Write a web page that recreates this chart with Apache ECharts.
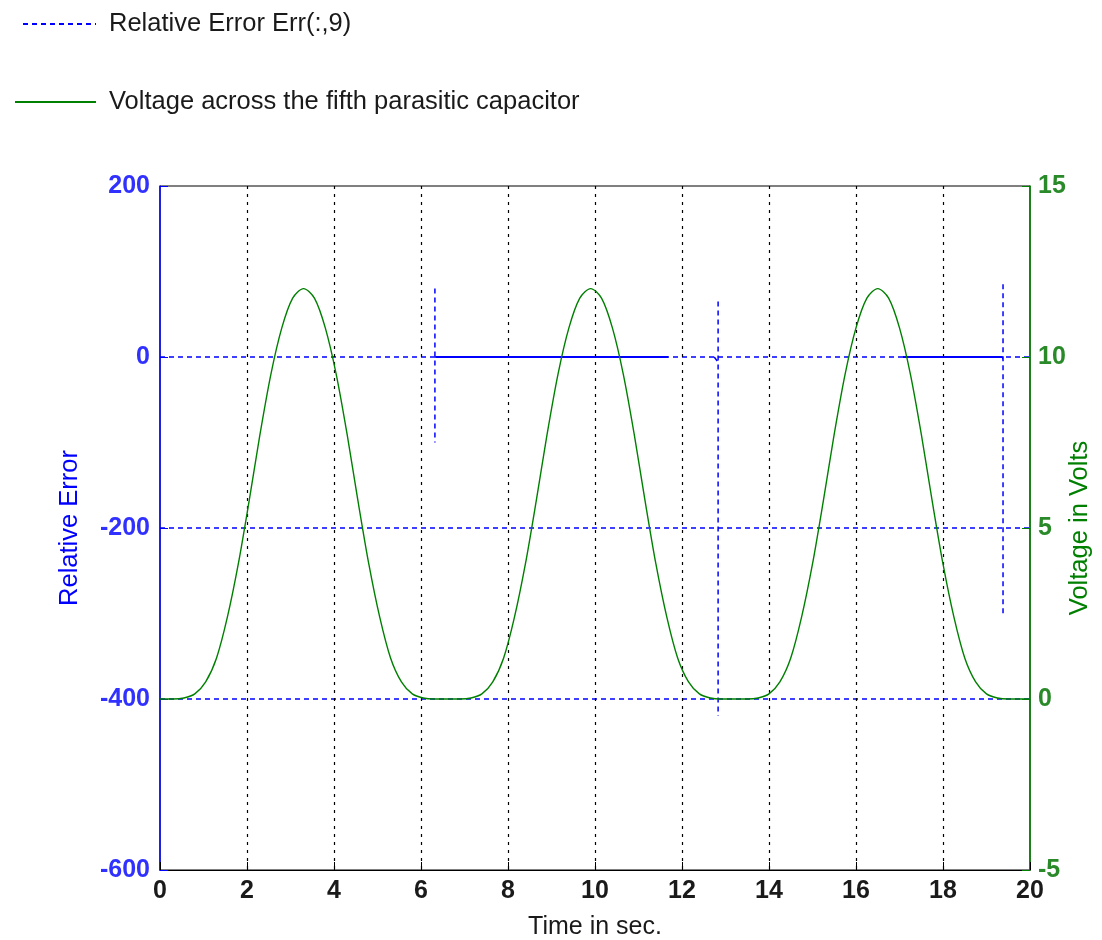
<!DOCTYPE html>
<html>
<head>
<meta charset="utf-8">
<script src="https://cdn.jsdelivr.net/npm/echarts@6/dist/echarts.min.js"></script>
<style>
  html, body { margin: 0; padding: 0; background: #ffffff; }
  #chart { width: 1102px; height: 940px; }
</style>
</head>
<body>
<div id="chart"></div>
<script>
// Voltage across the fifth parasitic capacitor (V) sampled over time (s)
const voltTime = [
  0.00,
  0.30, 0.55, 0.80, 1.05, 1.30, 1.55, 1.80, 2.05, 2.30, 2.55, 2.80, 3.05, 3.30,
  3.55, 3.80, 4.05, 4.30, 4.55, 4.80, 5.05, 5.30, 5.55, 5.80, 6.05, 6.30,
  6.90, 7.15, 7.40, 7.65, 7.90, 8.15, 8.40, 8.65, 8.90, 9.15, 9.40, 9.65, 9.90,
  10.15, 10.40, 10.65, 10.90, 11.15, 11.40, 11.65, 11.90, 12.15, 12.40, 12.65, 12.90,
  13.50, 13.75, 14.00, 14.25, 14.50, 14.75, 15.00, 15.25, 15.50, 15.75, 16.00, 16.25, 16.50,
  16.75, 17.00, 17.25, 17.50, 17.75, 18.00, 18.25, 18.50, 18.75, 19.00, 19.25, 19.50,
  20.00
];
const voltage = [
  0,
  0, 0.03, 0.15, 0.5, 1.2, 2.4, 3.95, 5.8, 7.75, 9.5, 10.85, 11.72, 12.0,
  11.72, 10.85, 9.5, 7.75, 5.8, 3.95, 2.4, 1.2, 0.5, 0.15, 0.03, 0,
  0, 0.03, 0.15, 0.5, 1.2, 2.4, 3.95, 5.8, 7.75, 9.5, 10.85, 11.72, 12.0,
  11.72, 10.85, 9.5, 7.75, 5.8, 3.95, 2.4, 1.2, 0.5, 0.15, 0.03, 0,
  0, 0.03, 0.15, 0.5, 1.2, 2.4, 3.95, 5.8, 7.75, 9.5, 10.85, 11.72, 12.0,
  11.72, 10.85, 9.5, 7.75, 5.8, 3.95, 2.4, 1.2, 0.5, 0.15, 0.03, 0,
  0
];

// Relative error Err(:,9); null marks samples where it is undefined
const errTime = [
  6.32, 6.32, 6.32, 6.33, 11.68, 11.72,
  12.74, 12.83, 12.83, 12.83, 12.83, 12.88,
  17.08, 19.37, 19.38, 19.38, 19.38, 19.38
];
const errValue = [
  80, -100, null, 0, 0, null,
  0, -6, null, 65, -420, null,
  0, 0, -4, null, 85, -300
];

// Tick settings
const xTicks = { min: 0, max: 20, step: 2 };
const errTicks = { min: -600, max: 200, step: 200 };
const voltTicks = { min: -5, max: 15, step: 5 };

const BLUE = '#0000ff';
const GREEN = '#008000';
const FONT = 'Liberation Sans';

const errSeries = errTime.map((t, i) => [t, errValue[i]]);
const errFlat = errTime.map((t, i) => [t, errValue[i] === 0 ? 0 : null]);
const voltSeries = voltTime.map((t, i) => [t, voltage[i]]);

const chart = echarts.init(document.getElementById('chart'), null, { renderer: 'canvas' });

const legendText = { fontFamily: FONT, fontSize: 25.5, color: '#1a1a1a', padding: [0, 0, 0, 8] };

chart.setOption({
  animation: false,
  backgroundColor: '#ffffff',
  grid: {
    left: 160, right: 72, top: 186, bottom: 70,
    outerBoundsMode: 'none',
    containLabel: false,
    show: true, borderColor: '#000', borderWidth: 1, backgroundColor: 'transparent'
  },
  legend: [
    {
      data: ['Relative Error Err(:,9)'],
      left: 17, top: 6,
      itemWidth: 73, itemHeight: 14,
      itemStyle: { opacity: 0 },
      textStyle: legendText
    },
    {
      data: ['Voltage across the fifth parasitic capacitor'],
      left: 9, top: 84,
      itemWidth: 81, itemHeight: 14,
      itemStyle: { opacity: 0 },
      textStyle: legendText
    }
  ],
  xAxis: {
    type: 'value',
    min: xTicks.min, max: xTicks.max, interval: xTicks.step,
    name: 'Time in sec.',
    nameLocation: 'middle', nameGap: 45,
    nameTextStyle: { fontFamily: FONT, fontSize: 25, color: '#1a1a1a' },
    axisLine: { onZero: false, lineStyle: { color: '#000', width: 1 } },
    axisTick: { inside: true, length: 8, lineStyle: { color: '#000' } },
    axisLabel: { fontFamily: FONT, fontSize: 25, fontWeight: 'bold', color: '#1a1a1a', margin: 9 },
    splitLine: {
      show: true, showMinLine: false, showMaxLine: false,
      lineStyle: { color: '#000', type: [3, 5], width: 1.2 }
    }
  },
  yAxis: [
    {
      type: 'value',
      position: 'left',
      min: errTicks.min, max: errTicks.max, interval: errTicks.step,
      name: 'Relative Error',
      nameLocation: 'middle', nameGap: 77, nameRotate: 90,
      nameTextStyle: { fontFamily: FONT, fontSize: 25.5, color: BLUE },
      axisLine: { show: true, onZero: false, lineStyle: { color: BLUE, width: 1.5 } },
      axisTick: { show: true, inside: true, length: 8, lineStyle: { color: BLUE } },
      axisLabel: { fontFamily: FONT, fontSize: 25, fontWeight: 'bold', color: '#3030ff', margin: 10 },
      splitLine: {
        show: true, showMinLine: false, showMaxLine: false,
        lineStyle: { color: BLUE, type: [5, 4], width: 1.6 }
      }
    },
    {
      type: 'value',
      position: 'right',
      min: voltTicks.min, max: voltTicks.max, interval: voltTicks.step,
      name: 'Voltage in Volts',
      nameLocation: 'middle', nameGap: 37, nameRotate: 90,
      nameMoveOverlap: false,
      nameTextStyle: { fontFamily: FONT, fontSize: 25.5, color: GREEN },
      axisLine: { show: true, onZero: false, lineStyle: { color: GREEN, width: 1.6 } },
      axisTick: { show: true, inside: true, length: 8, lineStyle: { color: GREEN } },
      axisLabel: { fontFamily: FONT, fontSize: 25, fontWeight: 'bold', color: '#2a8a2a', margin: 8 },
      splitLine: { show: false }
    }
  ],
  series: [
    {
      name: 'Relative Error Err(:,9)',
      type: 'line',
      yAxisIndex: 0,
      data: errSeries,
      symbol: 'none',
      connectNulls: false,
      lineStyle: { color: BLUE, width: 1.5, type: [5, 4] },
      itemStyle: { color: BLUE },
      z: 3
    },
    {
      type: 'line',
      yAxisIndex: 0,
      data: errFlat,
      symbol: 'none',
      connectNulls: false,
      lineStyle: { color: BLUE, width: 1.8, type: 'solid' },
      z: 3
    },
    {
      name: 'Voltage across the fifth parasitic capacitor',
      type: 'line',
      yAxisIndex: 1,
      data: voltSeries,
      symbol: 'none',
      smooth: 0.3,
      lineStyle: { color: GREEN, width: 1.4 },
      itemStyle: { color: GREEN },
      z: 4
    }
  ]
});
</script>
</body>
</html>
